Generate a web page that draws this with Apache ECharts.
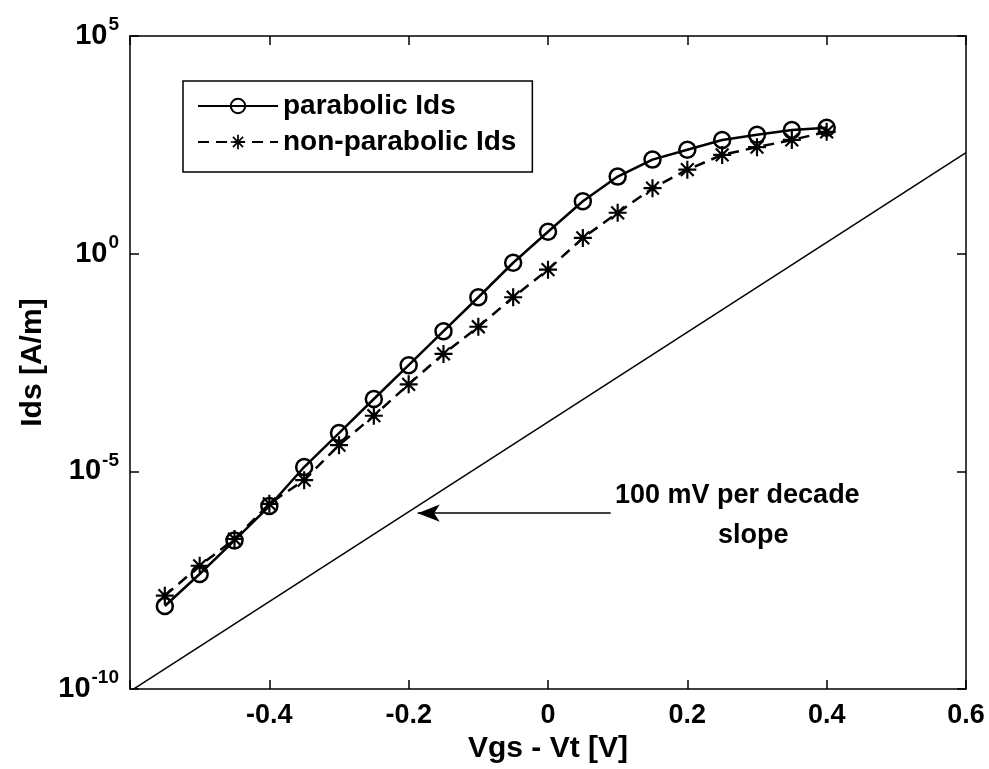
<!DOCTYPE html>
<html><head><meta charset="utf-8">
<script src="https://cdn.jsdelivr.net/npm/echarts@6/dist/echarts.min.js"></script>
<style>html,body{margin:0;padding:0;background:#fff}#c{width:989px;height:769px}</style>
</head><body><div id="c"></div>
<script>
// Data
const vgsMinusVt = [-0.55,-0.5,-0.45,-0.4,-0.35,-0.3,-0.25,-0.2,-0.15,-0.1,-0.05,0,0.05,0.1,0.15,0.2,0.25,0.3,0.35,0.4];
const parabolicIds = [8.1e-9,4.4e-8,2.6e-7,1.6e-6,1.26e-5,7.6e-5,4.6e-4,2.75e-3,1.66e-2,0.10,0.62,3.2,16,59,145,245,410,540,690,780];
const nonParabolicIds = [1.4e-8,6.8e-8,2.8e-7,1.8e-6,6.3e-6,4.0e-5,1.9e-4,1.0e-3,5.0e-3,2.1e-2,0.10,0.43,2.3,8.7,32,85,186,280,410,630];
const slopeV = [-0.595, 0.6];
const slopeIds = [1e-10, 2.1e2];
const arrowV = [0.09, -0.187];
const arrowIds = [1.1e-6, 1.1e-6];
const xTickLabels = ['', '-0.4', '-0.2', '0', '0.2', '0.4', '0.6'];
const yTickExponents = [-10, -5, 0, 5];
const seriesNames = ['parabolic Ids', 'non-parabolic Ids'];

const FONT = '"Liberation Sans", Arial, sans-serif';
const starPath = 'path://M0,8.8L20,8.8L20,11.2L0,11.2Z M8.8,0L11.2,0L11.2,20L8.8,20Z M3.78,2.08L17.92,16.22L16.22,17.92L2.08,3.78Z M17.92,3.78L3.78,17.92L2.08,16.22L16.22,2.08Z';

const chart = echarts.init(document.getElementById('c'), null, {renderer: 'canvas'});
const axisLineStyle = {color: '#000', width: 1.5};
const xMin = -0.6, xMax = 0.6, xInt = 0.2;

function xLabel(v) {
  const idx = Math.round((v - xMin) / xInt);
  return xTickLabels[idx] !== undefined ? xTickLabels[idx] : '';
}
function yLabel(v) {
  const e = Math.round(Math.log10(v));
  return yTickExponents.indexOf(e) >= 0 ? '{b|10}{s|' + e + '}' : '';
}

const option = {
  animation: false,
  backgroundColor: '#fff',
  grid: {left: 130, right: 23, top: 36, bottom: 79, containLabel: false},
  xAxis: [{
    type: 'value', min: xMin, max: xMax, interval: xInt,
    position: 'bottom',
    name: 'Vgs - Vt [V]', nameLocation: 'middle', nameGap: 44,
    nameTextStyle: {fontFamily: FONT, fontWeight: 'bold', fontSize: 30, color: '#000'},
    axisLine: {show: true, onZero: false, lineStyle: axisLineStyle},
    axisTick: {show: true, inside: true, length: 9, lineStyle: {color: '#000', width: 1.5}},
    axisLabel: {show: true, formatter: xLabel, margin: 13, fontFamily: FONT, fontWeight: 'bold', fontSize: 27, color: '#000', showMinLabel: true, showMaxLabel: true},
    splitLine: {show: false}
  }, {
    type: 'value', min: xMin, max: xMax, interval: xInt,
    position: 'top',
    axisLine: {show: true, onZero: false, lineStyle: axisLineStyle},
    axisTick: {show: true, inside: true, length: 9, lineStyle: {color: '#000', width: 1.5}},
    axisLabel: {show: false}, splitLine: {show: false}
  }],
  yAxis: [{
    type: 'log', logBase: 10, min: 1e-10, max: 1e5, interval: 5,
    position: 'left',
    name: 'Ids [A/m]', nameLocation: 'middle', nameGap: 82, nameRotate: 90,
    nameTextStyle: {fontFamily: FONT, fontWeight: 'bold', fontSize: 30, color: '#000'},
    axisLine: {show: true, onZero: false, lineStyle: axisLineStyle},
    axisTick: {show: true, inside: true, length: 9, lineStyle: {color: '#000', width: 1.5}},
    axisLabel: {
      show: true, formatter: yLabel, margin: 11, color: '#000',
      rich: {
        b: {fontFamily: FONT, fontWeight: 'bold', fontSize: 29, color: '#000'},
        s: {fontFamily: FONT, fontWeight: 'bold', fontSize: 19, color: '#000', padding: [0, 0, 22, 1]}
      }
    },
    splitLine: {show: false}
  }, {
    type: 'log', logBase: 10, min: 1e-10, max: 1e5, interval: 5,
    position: 'right',
    axisLine: {show: true, onZero: false, lineStyle: axisLineStyle},
    axisTick: {show: true, inside: true, length: 9, lineStyle: {color: '#000', width: 1.5}},
    axisLabel: {show: false}, splitLine: {show: false}
  }],
  legend: {
    show: true,
    data: seriesNames,
    orient: 'vertical',
    left: 183, top: 81,
    padding: [8, 16, 13, 14],
    itemGap: 2,
    itemWidth: 80, itemHeight: 18,
    borderColor: '#000', borderWidth: 1.5, borderRadius: 0,
    backgroundColor: '#fff',
    textStyle: {fontFamily: FONT, fontWeight: 'bold', fontSize: 28, color: '#000', lineHeight: 34}
  },
  series: [{
    name: seriesNames[0], type: 'line', xAxisIndex: 0, yAxisIndex: 0,
    data: vgsMinusVt.map((v, i) => [v, parabolicIds[i]]),
    symbol: 'circle', symbolSize: 16, showAllSymbol: true,
    lineStyle: {color: '#000', width: 2.5, type: 'solid'},
    itemStyle: {color: 'rgba(255,255,255,0)', borderColor: '#000', borderWidth: 2.5},
    emphasis: {disabled: true}, z: 3
  }, {
    name: seriesNames[1], type: 'line', xAxisIndex: 0, yAxisIndex: 0,
    data: vgsMinusVt.map((v, i) => [v, nonParabolicIds[i]]),
    symbol: starPath, symbolSize: 18, showAllSymbol: true,
    lineStyle: {color: '#000', width: 2.5, type: [11, 7]},
    itemStyle: {color: '#000', borderWidth: 0},
    emphasis: {disabled: true}, z: 3
  }, {
    name: 'slope', type: 'line', xAxisIndex: 0, yAxisIndex: 0,
    data: slopeV.map((v, i) => [v, slopeIds[i]]),
    symbol: 'none', silent: true,
    lineStyle: {color: '#000', width: 1.5},
    markLine: {
      silent: true, symbol: ['none', 'arrow'], symbolSize: [13, 22],
      label: {show: false},
      lineStyle: {color: '#000', width: 1.5, type: 'solid'},
      data: [[{coord: [arrowV[0], arrowIds[0]]}, {coord: [arrowV[1], arrowIds[1]]}]]
    },
    z: 2
  }],
  graphic: [
    {type: 'text', left: 615, top: 482, style: {text: '100 mV per decade', fontFamily: FONT, fontWeight: 'bold', fontSize: 27, fill: '#000'}},
    {type: 'text', left: 718, top: 522, style: {text: 'slope', fontFamily: FONT, fontWeight: 'bold', fontSize: 27, fill: '#000'}}
  ]
};
chart.setOption(option);
</script>
</body></html>
